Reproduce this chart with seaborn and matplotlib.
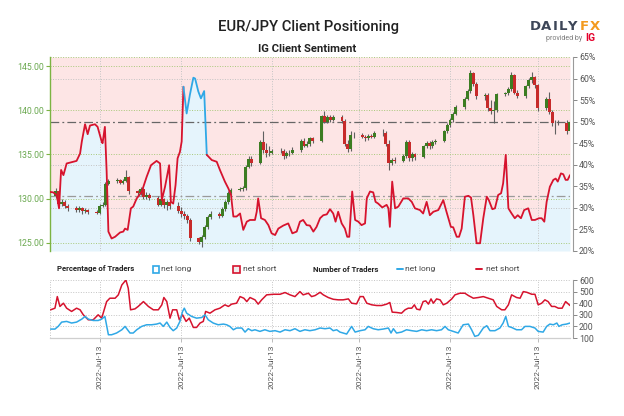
import numpy as np
import pandas as pd
import matplotlib
matplotlib.use("Agg")
import matplotlib.pyplot as plt
from matplotlib import font_manager
from matplotlib.patches import Rectangle
from matplotlib.lines import Line2D
import seaborn as sns

sns.set_theme(style="white")
names = {f.name for f in font_manager.fontManager.ttflist}
COND = "Liberation Sans Narrow" if "Liberation Sans Narrow" in names else "Roboto"
plt.rcParams["font.family"] = [COND, "DejaVu Sans"]

# ---------------- data ----------------
START = pd.Timestamp("2022-01-15")
candle_dates = pd.bdate_range("2022-01-17", "2022-07-12")
first_open = 130.3
close = [130.8, 129.4, 129.6, 129.2, 128.9,
         128.7, 128.9, 128.6, 128.7, 128.5,
         128.4, 129.2, 129.3, 131.7, 132.0,
         132.1, 131.8, 132.0, 132.4, 130.8,
         130.6, 131.1, 130.2, 130.4, 130.1,
         129.3, 129.9, 129.3, 129.6, 129.1,
         128.6, 128.3, 128.0, 127.6, 125.5,
         125.1, 125.6, 126.8, 127.9, 128.3,
         128.0, 128.8, 129.6, 130.6, 131.0,
         131.1, 131.2, 133.6, 134.5, 134.0,
         136.4, 135.5, 135.1, 135.2, 135.4,
         135.4, 134.8, 135.1, 135.2, 135.5,
         136.5, 136.0, 136.2, 136.8, 136.5,
         139.3, 138.7, 139.2, 138.9, 139.2,
         138.8, 136.2, 135.6, 137.2, 137.2,
         137.0, 136.8, 137.1, 137.0, 137.4,
         137.4, 136.2, 134.0, 134.4, 134.3,
         134.8, 136.4, 134.6, 135.0, 134.7,
         135.9, 136.3, 135.9, 136.4, 136.5,
         137.6, 138.3, 138.9, 139.6, 140.4,
         141.3, 142.2, 144.2, 143.0, 141.6,
         141.7, 140.2, 139.9, 140.0, 141.8,
         141.9, 142.4, 144.0, 142.0, 141.6,
         142.7, 143.4, 143.7, 142.8, 140.2,
         141.3, 139.8, 138.6, 138.5, 138.6,
         137.6, 138.7]
high = [131.2, 131.0, 129.9, 129.8, 129.4,
        129.1, 129.1, 129.0, 128.9, 128.8,
        128.7, 129.4, 129.6, 131.9, 132.2,
        132.3, 132.2, 132.2, 133.2, 132.5,
        131.0, 131.3, 131.2, 130.7, 130.6,
        130.3, 130.1, 130.1, 129.8, 129.8,
        129.6, 129.0, 128.6, 128.2, 127.8,
        125.7, 125.9, 127.0, 128.1, 128.6,
        128.5, 129.0, 129.8, 130.8, 131.2,
        131.3, 131.4, 133.8, 134.8, 134.8,
        136.6, 137.6, 136.3, 135.9, 135.6,
        135.7, 135.6, 135.4, 135.5, 135.8,
        136.7, 136.9, 136.5, 137.0, 137.0,
        139.5, 139.9, 139.4, 139.4, 139.4,
        139.4, 139.0, 136.6, 137.6, 137.5,
        137.4, 137.2, 137.3, 137.3, 137.7,
        137.9, 137.6, 136.6, 134.6, 134.7,
        135.0, 136.6, 136.6, 135.3, 135.2,
        136.1, 136.5, 136.5, 136.6, 136.7,
        137.8, 138.5, 139.1, 139.8, 140.6,
        141.5, 142.4, 144.5, 144.3, 143.2,
        141.9, 141.9, 141.2, 141.0, 142.0,
        142.1, 142.6, 144.3, 144.1, 142.3,
        142.9, 143.6, 144.3, 143.9, 143.0,
        141.5, 142.1, 140.0, 138.9, 138.9,
        138.9, 139.0]
low = [130.1, 129.1, 129.2, 128.9, 128.6,
       128.5, 128.5, 128.3, 128.4, 128.2,
       128.2, 128.3, 129.0, 129.2, 131.5,
       131.8, 131.6, 131.6, 131.9, 130.5,
       130.3, 130.4, 129.9, 130.0, 129.8,
       129.1, 129.1, 128.9, 128.7, 128.8,
       128.4, 127.9, 127.7, 127.2, 125.2,
       124.9, 124.5, 125.4, 126.6, 127.7,
       127.8, 127.9, 128.6, 129.4, 130.4,
       130.8, 130.9, 131.0, 133.4, 133.7,
       133.9, 135.2, 134.7, 134.8, 135.0,
       135.1, 134.5, 134.6, 134.8, 135.0,
       135.3, 135.8, 135.8, 136.0, 136.3,
       136.4, 138.5, 138.5, 138.7, 138.8,
       138.6, 136.0, 135.3, 135.4, 136.9,
       136.8, 136.5, 136.6, 136.8, 136.9,
       137.1, 136.0, 133.2, 133.8, 134.0,
       134.1, 134.6, 134.2, 134.3, 134.4,
       134.6, 135.7, 135.6, 135.7, 136.2,
       136.4, 137.4, 138.1, 138.7, 139.4,
       140.1, 141.1, 142.0, 142.7, 141.3,
       141.2, 139.9, 139.6, 138.6, 139.8,
       141.6, 141.7, 142.2, 141.8, 141.4,
       141.4, 142.5, 143.1, 142.5, 139.9,
       140.0, 139.6, 138.2, 137.3, 138.3,
       137.3, 137.4]

# net-long percentage (right axis), x in days since 2022-01-15
sent_day = [0.0, 1.1, 2.3, 3.1, 3.8, 4.6, 5.7, 7.4, 9.1, 10.3, 10.9, 12.0, 12.9, 13.7,
            15.4, 16.3, 17.7, 18.0, 18.8, 19.4, 20.0, 21.1, 22.3, 24.0, 25.1, 25.7,
            26.6, 27.7, 28.5, 29.7, 31.4, 33.1, 34.6, 36.5, 37.7, 38.3, 39.4, 40.8,
            41.4, 42.2, 43.0, 43.7, 44.5, 45.1, 45.7, 46.8, 47.9, 49.1, 49.7, 50.8,
            51.7, 52.8, 53.7, 55.4, 57.1, 58.2, 59.9, 61.1, 62.0, 62.8, 63.9, 65.1,
            66.2, 67.4, 68.5, 70.2, 70.8, 71.3, 72.3, 73.6, 74.8, 75.9, 77.1, 78.2,
            79.9, 81.6, 83.0, 84.5, 85.6, 86.7, 87.9, 89.0, 90.2, 91.3, 92.5, 93.6,
            94.8, 95.9, 97.0, 97.8, 98.7, 99.9, 101.0, 101.8, 102.5, 103.5, 104.5,
            105.6, 106.7, 107.9, 108.5, 109.6, 110.7, 111.5, 112.4, 113.8, 115.3,
            115.9, 116.4, 117.2, 118.2, 119.3, 121.0, 122.7, 123.9, 125.0, 126.7,
            127.8, 129.0, 130.1, 131.3, 133.0, 134.7, 135.8, 137.3, 138.1, 139.3,
            140.1, 141.0, 142.1, 143.3, 144.2, 145.0, 146.1, 147.3, 148.4, 149.6,
            150.3, 151.5, 152.4, 153.5, 154.5, 155.2, 156.1, 157.0, 158.1, 159.2,
            160.2, 161.3, 162.4, 163.8, 165.0, 166.1, 167.5, 168.4, 169.3, 170.1,
            171.2, 172.4, 173.2, 173.9, 175.0, 175.8, 176.6, 177.3, 178.1]
sent_pct = [33.7, 33.6, 33.0, 29.9, 38.8, 37.6, 40.3, 40.6, 40.9, 42.6, 45.4, 49.4, 47.1, 49.1,
            49.4, 48.8, 45.4, 45.0, 48.8, 38.4, 24.5, 22.9, 23.3, 24.3, 24.5, 25.2,
            24.9, 29.9, 30.3, 32.2, 33.7, 37.2, 39.9, 40.9, 40.3, 31.8, 34.9, 39.9,
            31.4, 31.0, 35.3, 41.5, 43.0, 45.4, 58.1, 51.9, 56.2, 60.2, 60.0, 57.0,
            55.4, 57.1, 42.3, 41.1, 40.7, 38.8, 36.1, 34.5, 33.0, 28.0, 28.0, 28.7,
            24.9, 26.8, 27.2, 27.2, 29.1, 32.2, 27.6, 27.2, 26.0, 24.1, 23.7, 25.2,
            25.9, 26.4, 24.1, 24.5, 26.8, 27.2, 26.0, 25.9, 24.5, 25.6, 27.6, 28.3,
            28.5, 29.7, 28.7, 26.8, 29.1, 26.4, 25.2, 23.3, 23.3, 33.8, 27.2,
            26.8, 26.0, 26.4, 32.2, 33.8, 33.6, 31.4, 31.0, 30.1, 30.7,
            29.9, 25.6, 36.1, 29.9, 30.3, 32.2, 32.2, 31.4, 29.9, 29.5,
            28.7, 31.4, 28.3, 29.1, 29.5, 31.8, 29.1, 25.6, 25.5, 23.3,
            23.3, 25.2, 32.6, 32.8, 32.4, 28.3, 21.8, 21.8, 27.6, 32.6,
            31.8, 29.7, 29.9, 33.0, 33.4, 35.7, 42.3, 29.9, 28.7, 27.6,
            28.3, 27.6, 29.5, 29.9, 27.2, 27.2, 27.6, 27.6, 26.8, 31.4,
            34.9, 36.5, 36.8, 36.1, 38.0, 37.8, 36.5, 36.5, 37.6]

# number of traders (bottom panel)
short_day = [0.2, 1.7, 2.5, 3.4, 4.6, 5.7, 7.4, 9.1, 10.3, 11.4, 13.1, 14.8, 16.5, 17.7,
             19.4, 20.5, 22.3, 23.4, 24.6, 26.0, 26.8, 27.6, 29.1, 30.2, 32.0, 33.7,
             35.4, 37.1, 38.3, 39.0, 40.0, 41.1, 42.0, 43.4, 44.3, 45.4, 46.6, 47.7,
             49.1, 50.2, 51.4, 52.5, 53.3, 54.8, 56.5, 58.2, 59.9, 61.1, 62.2, 63.9,
             65.1, 66.4, 67.4, 68.5, 70.2, 71.3, 72.5, 74.2, 76.5, 78.8, 80.5, 82.2,
             83.9, 85.6, 86.7, 88.5, 89.6, 90.8, 92.5, 93.6, 95.3, 97.0, 98.7, 100.4,
             102.2, 103.3, 105.0, 106.2, 107.3, 108.5, 110.2, 111.9, 113.6, 115.3,
             116.4, 117.2, 118.7, 120.4, 121.6, 122.7, 123.9, 124.8, 125.6, 126.7,
             127.8, 128.7, 129.6, 130.5, 131.3, 132.4, 133.6, 134.7, 135.9, 137.6,
             138.7, 140.4, 142.1, 143.3, 145.0, 146.7, 148.4, 150.1, 151.8, 153.0,
             154.7, 155.8, 157.0, 158.1, 159.8, 161.0, 162.1, 163.3, 165.0, 166.1,
             167.2, 168.4, 169.5, 170.6, 171.8, 172.9, 174.1, 175.4, 176.6, 178.1]
short_val = [343, 357, 457, 372, 400, 357, 329, 357, 343, 300, 257, 257, 300, 271,
             414, 443, 443, 472, 557, 600, 529, 343, 351, 372, 414, 372,
             343, 343, 386, 449, 414, 271, 343, 343, 257, 300, 243, 271,
             191, 191, 229, 243, 329, 314, 343, 357, 386, 372, 392, 400,
             457, 443, 414, 449, 429, 392, 429, 472, 477, 477, 492, 472,
             457, 500, 472, 486, 457, 466, 494, 472, 449, 434, 429, 429,
             437, 400, 394, 457, 457, 400, 386, 380, 380, 392,
             406, 323, 320, 314, 343, 357, 357, 386, 349, 343,
             414, 420, 392, 437, 400, 437, 429, 386, 400, 437,
             472, 486, 486, 466, 443, 449, 457, 443, 429, 372,
             343, 343, 386, 472, 449, 443, 500, 494, 477, 477,
             386, 400, 429, 414, 372, 372, 357, 357, 414, 380]
long_day = [0.2, 1.7, 2.8, 4.0, 5.7, 7.4, 9.1, 10.9, 12.0, 13.1, 14.8, 16.5, 17.7, 18.8,
            20.0, 21.1, 22.8, 24.6, 25.7, 27.4, 28.5, 29.7, 31.4, 33.1, 34.8, 36.5,
            37.7, 38.8, 40.0, 41.1, 42.2, 43.4, 44.5, 45.4, 46.0, 46.8, 48.5, 50.2,
            52.0, 53.1, 54.2, 55.9, 57.6, 59.4, 60.5, 61.6, 62.8, 63.9, 65.7, 66.8,
            67.9, 69.1, 70.2, 71.9, 73.6, 75.3, 77.1, 78.8, 80.5, 82.2, 83.9, 85.6,
            87.3, 89.0, 90.8, 92.5, 94.2, 95.9, 97.0, 98.2, 99.3, 100.4, 101.6, 103.3,
            104.5, 106.2, 107.9, 109.0, 110.7, 112.4, 114.1, 115.9, 116.8, 117.6,
            118.7, 120.4, 122.1, 123.9, 125.6, 127.3, 129.0, 130.7, 132.4, 134.1,
            135.3, 136.4, 138.1, 139.8, 141.5, 143.3, 144.4, 145.5, 146.7, 148.4,
            149.6, 150.7, 152.4, 154.1, 155.2, 156.1, 157.0, 158.1, 159.8, 161.5,
            162.7, 164.4, 166.1, 167.2, 168.9, 170.1, 171.2, 172.4, 173.6, 174.3,
            175.4, 176.9, 178.1]
long_val = [177, 177, 200, 237, 243, 229, 237, 263, 286, 263, 251, 251, 263, 286,
            128, 128, 143, 171, 200, 143, 143, 171, 200, 214, 214, 220,
            229, 200, 237, 191, 163, 186, 243, 329, 357, 314, 286, 271,
            277, 300, 257, 229, 214, 220, 214, 200, 171, 186, 186, 151,
            180, 163, 171, 157, 171, 157, 163, 151, 171, 163, 180, 157,
            171, 163, 171, 186, 180, 186, 163, 171, 151, 143, 134, 200,
            151, 163, 171, 200, 180, 171, 177, 186, 143, 180,
            143, 151, 171, 163, 157, 171, 163, 171, 163, 171,
            200, 171, 157, 143, 214, 220, 171, 114, 123, 186,
            206, 163, 163, 186, 229, 286, 200, 191, 171, 171,
            200, 200, 186, 157, 151, 200, 220, 214, 229, 200,
            214, 220, 229]

tick_dates = ["2022-02-01", "2022-03-01", "2022-04-01", "2022-05-01", "2022-06-01", "2022-07-01"]
tick_labels = ["2022-Jul-13"] * 6
price_ticks = [125, 130, 135, 140, 145]
pct_ticks = [20, 25, 30, 35, 40, 45, 50, 55, 60, 65]
pct_grid = [30, 40, 60]
count_ticks = [100, 200, 300, 400, 500, 600]

# ---------------- styling ----------------
RED = "#d6132e"
BLUE = "#2fa8e6"
PINK_BG = "#fde5e5"
BLUE_BG = "#e5f4fc"
GREEN_UP = "#3c7d22"
RED_DN = "#c72a2a"
AX_GREEN = "#7cb342"
LBL_GREEN = "#6aa84f"
GRID = "#c4c4c4"

W, H = 624, 416
fig = plt.figure(figsize=(W / 100, H / 100), dpi=100)
fig.patch.set_facecolor("white")


def rect(x0, y0, x1, y1):
    return [x0 / W, 1 - y1 / H, (x1 - x0) / W, (y1 - y0) / H]


cd = np.array([(d - START).days for d in candle_dates], dtype=float)
tick_days = [(pd.Timestamp(t) - START).days for t in tick_dates]
XMAX = 178.1
PMIN, PMAX = 124.06, 146.02

# ---- main panel: background (pct axis) ----
ax = fig.add_axes(rect(50, 57, 570, 251))
ax.set_xlim(0, XMAX)
ax.set_ylim(20, 65)
ax.set_facecolor("none")
ax.fill_between(sent_day, 20, sent_pct, color=BLUE_BG, lw=0, zorder=0)
ax.fill_between(sent_day, sent_pct, 65, color=PINK_BG, lw=0, zorder=0)
for v in pct_grid:
    ax.axhline(v, color=GRID, lw=0.7, ls=(0, (1, 1.6)), zorder=1)
for t in tick_days:
    ax.axvline(t, color=GRID, lw=0.7, ls=(0, (1, 1.6)), zorder=1)
ax.axhline(50, color="#666666", lw=0.9, ls=(0, (7, 2.5, 1.5, 2.5)), zorder=1)
ax.axhline(32.8, color="#9a9a9a", lw=0.9, ls=(0, (7, 2.5, 1.5, 2.5)), zorder=1)
ax.set_xticks(tick_days)
ax.tick_params(axis="x", length=0, labelbottom=False)
ax.grid(False)

# ---- price axis with candles ----
axp = ax.twinx()
axp.set_ylim(PMIN, PMAX)
axp.set_xlim(0, XMAX)
axp.yaxis.tick_left()
axp.yaxis.set_label_position("left")
axp.set_yticks(price_ticks)
axp.set_yticklabels([f"{v:.2f}" for v in price_ticks])
axp.tick_params(axis="y", left=True, right=False, labelleft=True, labelright=False,
                length=3, width=0.8, color=AX_GREEN,
                labelsize=6.3, labelcolor=LBL_GREEN, pad=1.5)
for s in ["top", "bottom", "right"]:
    axp.spines[s].set_visible(False)
axp.spines["left"].set_color(AX_GREEN)
axp.spines["left"].set_linewidth(1.0)
for v in price_ticks + [PMAX, PMIN]:
    axp.axhline(v, color="#a8c97a", lw=0.7, ls=(0, (1, 1.6)), zorder=1)
axp.grid(False)

opens = np.array([first_open] + close[:-1])
closes = np.array(close)
up = closes >= opens
body_col = [GREEN_UP if u else RED_DN for u in up]
axp.vlines(cd, low, high, color="#606060", lw=0.8, zorder=3)
axp.bar(cd, closes - opens, bottom=opens, width=1.0, color=body_col, lw=0, zorder=4)

# ---- sentiment line on top ----
axl = ax.twinx()
axl.set_ylim(20, 65)
axl.set_xlim(0, XMAX)
axl.axis("off")
sd = np.array(sent_day)
sp = np.array(sent_pct)
seg_blue = sp[:-1] > 50
i = 0
while i < len(seg_blue):
    j = i
    while j + 1 < len(seg_blue) and seg_blue[j + 1] == seg_blue[i]:
        j += 1
    run = pd.DataFrame({"d": sd[i:j + 2], "p": sp[i:j + 2]})
    sns.lineplot(data=run, x="d", y="p", ax=axl, sort=False, estimator=None,
                 color=BLUE if seg_blue[i] else RED, lw=1.3, zorder=5)
    i = j + 1
axl.set_xlim(0, XMAX)
axl.set_ylim(20, 65)

# pct axis on the right (after twinx, which resets the host to the left)
ax.yaxis.tick_right()
ax.yaxis.set_label_position("right")
ax.set_yticks(pct_ticks)
ax.set_yticklabels([f"{v}%" for v in pct_ticks])
ax.tick_params(axis="y", which="both", right=True, left=False, labelright=True, labelleft=False,
               length=3, width=0.7, color="#888888",
               labelsize=6.3, labelcolor="#555555", pad=1.5)
for s in ["top", "bottom", "left"]:
    ax.spines[s].set_visible(False)
ax.spines["right"].set_visible(True)
ax.spines["right"].set_color("#9a9a9a")
ax.spines["right"].set_linewidth(0.8)
ax.spines["right"].set_position(("outward", 2))

# ---- bottom panel ----
axb = fig.add_axes(rect(50, 280, 570, 338))
axb.set_xlim(0, XMAX)
axb.set_ylim(100, 600)
axb.set_facecolor("white")
for v in count_ticks[1:]:
    axb.axhline(v, color=GRID, lw=0.7, ls=(0, (1, 1.6)), zorder=0)
for t in tick_days:
    axb.axvline(t, color=GRID, lw=0.7, ls=(0, (1, 1.6)), zorder=0)
axb.axvline(0, color=GRID, lw=0.7, ls=(0, (1, 1.6)), zorder=0)
sns.lineplot(x=short_day, y=short_val, ax=axb, color=RED, lw=1.1, estimator=None, sort=False)
sns.lineplot(x=long_day, y=long_val, ax=axb, color=BLUE, lw=1.1, estimator=None, sort=False)
axb.set_xlim(0, XMAX)
axb.set_ylim(100, 600)
axb.set_xlabel("")
axb.set_ylabel("")
axb.yaxis.tick_right()
axb.set_yticks(count_ticks)
axb.set_yticklabels([str(v) for v in count_ticks])
axb.tick_params(axis="y", right=True, left=False, length=3, width=0.7, color="#888888",
                labelsize=6.3, labelcolor="#555555", pad=1.5)
axb.set_xticks(tick_days)
axb.set_xticklabels(tick_labels, rotation=90)
axb.tick_params(axis="x", bottom=True, length=3, width=0.7, color="#bbbbbb",
                labelsize=6.0, labelcolor="#555555", pad=2)
for s in ["top", "left"]:
    axb.spines[s].set_visible(False)
axb.spines["bottom"].set_color("#cfcfcf")
axb.spines["bottom"].set_linewidth(0.9)
axb.spines["right"].set_color("#9a9a9a")
axb.spines["right"].set_linewidth(0.8)
axb.spines["right"].set_position(("outward", 2))
axb.grid(False)

# ---- titles ----
fig.text(309 / W, 1 - 27 / H, "EUR/JPY Client Positioning", ha="center", va="center",
         fontsize=10.6, fontweight="medium", color="#222222")
fig.text(307 / W, 1 - 49 / H, "IG Client Sentiment", ha="center", va="center",
         fontsize=8.1, fontweight="bold", color="#222222")

# logo
logo_letters = ["D", "A", "I", "L", "Y", "F", "X"]
logo_x = [535, 546, 555, 563, 572, 584, 595]
for ch, x in zip(logo_letters, logo_x):
    fig.text(x / W, 1 - 27 / H, ch, ha="center", va="center", fontsize=9.5,
             fontweight="bold", color="#f39a1f" if ch in "FX" else "#3d4658",
             family=["DejaVu Sans"])
fig.text(582 / W, 1 - 38 / H, "provided by", ha="right", va="center", fontsize=5.0,
         color="#7a7a7a")
fig.text(585 / W, 1 - 38 / H, "IG", ha="left", va="center", fontsize=7.5,
         fontweight="bold", color="#e4002b")

# ---- legend row ----
LY = 1 - 269 / H
fig.text(57 / W, LY, "Percentage of Traders", ha="left", va="center", fontsize=5.6,
         fontweight="bold", color="#222222")
fig.add_artist(Rectangle((152.5 / W, 1 - 272.5 / H), 6.5 / W, 6.5 / H, transform=fig.transFigure,
                         facecolor="white", edgecolor=BLUE, lw=1.2))
fig.text(161 / W, LY, "net long", ha="left", va="center", fontsize=6.0, color="#444444")
fig.add_artist(Rectangle((233 / W, 1 - 272.5 / H), 6.5 / W, 6.5 / H, transform=fig.transFigure,
                         facecolor="#eeeeee", edgecolor=RED, lw=1.2))
fig.text(243 / W, LY, "net short", ha="left", va="center", fontsize=6.0, color="#444444")
fig.text(313 / W, LY, "Number of Traders", ha="left", va="center", fontsize=5.6,
         fontweight="bold", color="#222222")
fig.add_artist(Line2D([397 / W, 403 / W], [LY, LY], transform=fig.transFigure, color=BLUE, lw=1.4))
fig.text(405 / W, LY, "net long", ha="left", va="center", fontsize=6.0, color="#444444")
fig.add_artist(Line2D([476 / W, 482 / W], [LY, LY], transform=fig.transFigure, color=RED, lw=1.4))
fig.text(486 / W, LY, "net short", ha="left", va="center", fontsize=6.0, color="#444444")

fig.savefig("out.png", dpi=100, facecolor="white")
